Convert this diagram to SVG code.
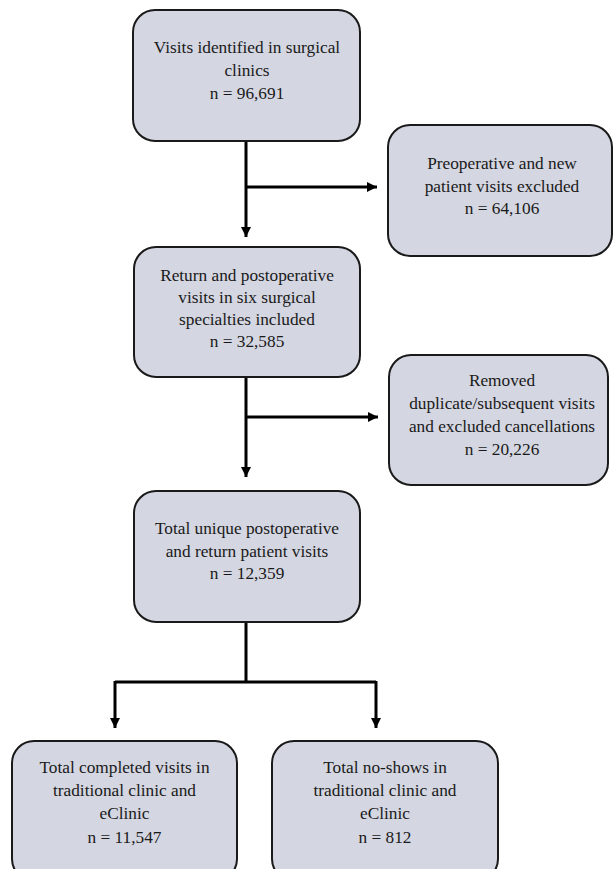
<svg xmlns="http://www.w3.org/2000/svg" width="613" height="869" viewBox="0 0 613 869">
<style>
.box{fill:#d4d6e1;stroke:#1a1a1a;stroke-width:2}
.t{font-family:'Liberation Serif','Times New Roman',serif;font-size:17.3px;fill:#1a1a1a;text-anchor:middle}
.c{fill:none;stroke:#000;stroke-width:3}
</style>
<defs>
<marker id="ah" viewBox="0 0 10 10" refX="10" refY="5" markerWidth="3.4" markerHeight="3.4" markerUnits="strokeWidth" orient="auto">
<path d="M0,0 L10,5 L0,10 z" fill="#000"/>
</marker>
</defs>
<rect width="613" height="869" fill="#fff"/>
<g id="connectors">
<path class="c" d="M246,141 V237" marker-end="url(#ah)"/>
<path class="c" d="M246,187 H377" marker-end="url(#ah)"/>
<path class="c" d="M246,377 V477" marker-end="url(#ah)"/>
<path class="c" d="M246,417 H378" marker-end="url(#ah)"/>
<path class="c" d="M246,622 V682"/>
<path class="c" d="M115,682 H376"/>
<path class="c" d="M115,681 V728" marker-end="url(#ah)"/>
<path class="c" d="M376,681 V728" marker-end="url(#ah)"/>
</g>
<g id="n1">
<rect class="box" x="133" y="10" width="227" height="131" rx="22"/>
<text class="t" x="247" y="53">Visits identified in surgical</text>
<text class="t" x="247" y="76">clinics</text>
<text class="t" x="247" y="99">n = 96,691</text>
</g>
<g id="n2">
<rect class="box" x="388" y="125" width="224" height="131" rx="22"/>
<text class="t" x="502" y="169">Preoperative and new</text>
<text class="t" x="502" y="192">patient visits excluded</text>
<text class="t" x="502" y="214">n = 64,106</text>
</g>
<g id="n3">
<rect class="box" x="134" y="247" width="226" height="130" rx="22"/>
<text class="t" x="247" y="281">Return and postoperative</text>
<text class="t" x="247" y="303">visits in six surgical</text>
<text class="t" x="247" y="325">specialties included</text>
<text class="t" x="247" y="347">n = 32,585</text>
</g>
<g id="n4">
<rect class="box" x="389" y="355" width="219" height="130" rx="22"/>
<text class="t" x="502" y="386">Removed</text>
<text class="t" x="502" y="409">duplicate/subsequent visits</text>
<text class="t" x="502" y="432">and excluded cancellations</text>
<text class="t" x="502" y="455">n = 20,226</text>
</g>
<g id="n5">
<rect class="box" x="134" y="491" width="226" height="131" rx="22"/>
<text class="t" x="247" y="534">Total unique postoperative</text>
<text class="t" x="247" y="557">and return patient visits</text>
<text class="t" x="247" y="579">n = 12,359</text>
</g>
<g id="n6">
<rect class="box" x="12" y="741" width="225" height="140" rx="22"/>
<text class="t" x="124.5" y="773">Total completed visits in</text>
<text class="t" x="124.5" y="796">traditional clinic and</text>
<text class="t" x="124.5" y="819">eClinic</text>
<text class="t" x="124.5" y="843">n = 11,547</text>
</g>
<g id="n7">
<rect class="box" x="272" y="741" width="226" height="140" rx="22"/>
<text class="t" x="385" y="773">Total no-shows in</text>
<text class="t" x="385" y="796">traditional clinic and</text>
<text class="t" x="385" y="819">eClinic</text>
<text class="t" x="385" y="843">n = 812</text>
</g>
</svg>
